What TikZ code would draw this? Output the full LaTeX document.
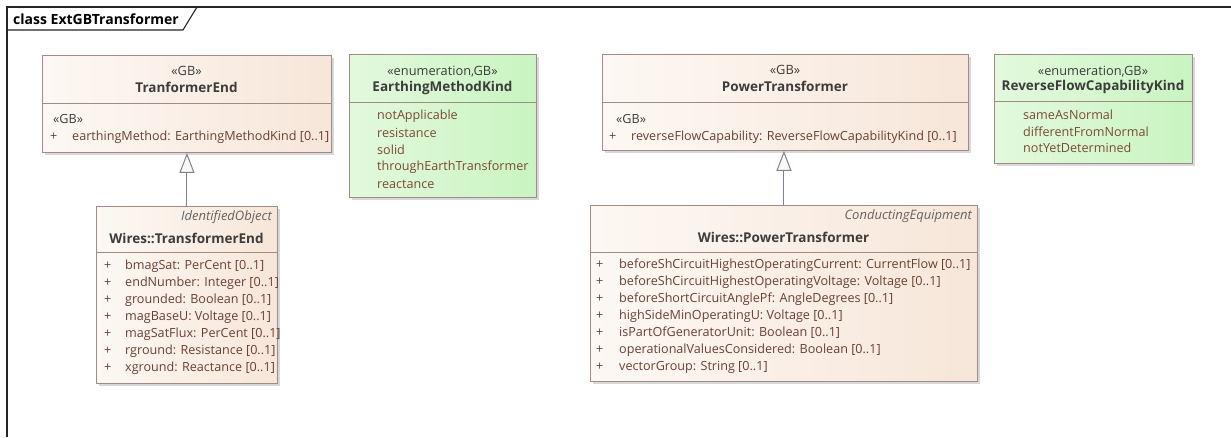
\documentclass[tikz,border=0pt]{standalone}
\usepackage{fontspec}
\setmainfont{Open Sans}
\usetikzlibrary{arrows.meta,shadows}
\definecolor{classline}{HTML}{A08C87}
\definecolor{peachleft}{HTML}{FDF8F4}
\definecolor{peachright}{HTML}{F7E6D9}
\definecolor{greenleft}{HTML}{E3F9DD}
\definecolor{greenright}{HTML}{C9F4C1}
\definecolor{arrowgray}{HTML}{7A8296}
\definecolor{titletext}{HTML}{3C3C3C}
\definecolor{attrtext}{HTML}{6B3F33}
\definecolor{enumtext}{HTML}{7A4A32}
\tikzset{
  classbox/.style={draw=classline, line width=0.9pt, anchor=north west, inner sep=0pt,
    left color=peachleft, right color=peachright,
    drop shadow={shadow xshift=3pt, shadow yshift=-3pt, fill=black!30, opacity=0.5}},
  enumbox/.style={classbox, left color=greenleft, right color=greenright},
  divider/.style={draw=classline, line width=0.9pt},
  stereo/.style={inner sep=0pt, text=titletext, font=\fontsize{12.8}{14}\selectfont},
  classname/.style={inner sep=0pt, text=titletext, font=\fontsize{13.5}{15}\selectfont\bfseries},
  parent/.style={inner sep=0pt, anchor=east, text=titletext!80, font=\fontsize{13}{15}\selectfont\itshape},
  attr/.style={inner sep=0pt, anchor=west, text=attrtext, font=\fontsize{12.6}{14}\selectfont},
  enumitem/.style={attr, text=enumtext},
  genline/.style={draw=arrowgray, line width=1pt,
    -{Triangle[open, length=20pt, width=15pt, fill=peachleft]}},
  frameline/.style={draw=black!85, line width=1.1pt}
}
\begin{document}
\begin{tikzpicture}[x=1pt, y=-1pt]
  \fill[white] (0,0) rectangle (1231,437);
  \useasboundingbox (0,0) rectangle (1231,437);
  % frame
  \draw[frameline] (7,437) -- (7,7) -- (1231,7);
  \draw[frameline] (7,30) -- (183,30) -- (197,7);
  \node[inner sep=0pt, anchor=west, text=black, font=\fontsize{14}{16}\selectfont\bfseries] (frametitle) at (13,19) {class ExtGBTransformer};

  % GB TranformerEnd
  \node[classbox, minimum width=289pt, minimum height=97pt] (te) at (42,55) {};
  \draw[divider] (42,103) -- (331,103);
  \node[stereo] (te-st) at (186.5,71) {«GB»};
  \node[classname] (te-name) at (186.5,87) {TranformerEnd};
  \node[attr, text=titletext] (te-ast) at (53,119) {«GB»};
  \node[attr] (te-p) at (50,137) {+};
  \node[attr] (te-a) at (72,137) {earthingMethod: EarthingMethodKind [0..1]};

  % EarthingMethodKind
  \node[enumbox, minimum width=187pt, minimum height=143pt] (emk) at (349,54) {};
  \draw[divider] (349,102) -- (536,102);
  \node[stereo] (emk-st) at (442.5,72) {«enumeration,GB»};
  \node[classname] (emk-name) at (442.5,88) {EarthingMethodKind};
  \foreach \lit [count=\i from 0] in {notApplicable, resistance, solid, throughEarthTransformer, reactance}
    \node[enumitem] (emk-\i) at (377,116+17*\i) {\lit};

  % Wires::TransformerEnd
  \node[classbox, minimum width=181pt, minimum height=177pt] (wte) at (96,206) {};
  \draw[divider] (96,252) -- (277,252);
  \node[parent] (wte-par) at (272,217) {IdentifiedObject};
  \node[classname] (wte-name) at (186.5,238) {Wires::TransformerEnd};
  \foreach \txt [count=\i from 0] in {bmagSat: PerCent [0..1], endNumber: Integer [0..1],
      grounded: Boolean [0..1], magBaseU: Voltage [0..1], magSatFlux: PerCent [0..1],
      rground: Resistance [0..1], xground: Reactance [0..1]} {
    \node[attr] (wte-p\i) at (104,266+17*\i) {+};
    \node[attr] (wte-a\i) at (125,266+17*\i) {\txt};
  }

  % GB PowerTransformer
  \node[classbox, minimum width=366pt, minimum height=96pt] (pt) at (602,54) {};
  \draw[divider] (602,102) -- (968,102);
  \node[stereo] (pt-st) at (785,70) {«GB»};
  \node[classname] (pt-name) at (785,86) {PowerTransformer};
  \node[attr, text=titletext] (pt-ast) at (616,119) {«GB»};
  \node[attr] (pt-p) at (609,137) {+};
  \node[attr] (pt-a) at (631,137) {reverseFlowCapability: ReverseFlowCapabilityKind [0..1]};

  % ReverseFlowCapabilityKind
  \node[enumbox, minimum width=198pt, minimum height=109pt] (rfck) at (994,54) {};
  \draw[divider] (994,101) -- (1192,101);
  \node[stereo] (rfck-st) at (1093,72) {«enumeration,GB»};
  \node[classname] (rfck-name) at (1093,87) {ReverseFlowCapabilityKind};
  \foreach \lit [count=\i from 0] in {sameAsNormal, differentFromNormal, notYetDetermined}
    \node[enumitem] (rfck-\i) at (1023,115+16.5*\i) {\lit};

  % Wires::PowerTransformer
  \node[classbox, minimum width=387pt, minimum height=176pt] (wpt) at (590,205) {};
  \draw[divider] (590,252) -- (977,252);
  \node[parent] (wpt-par) at (972,216) {ConductingEquipment};
  \node[classname] (wpt-name) at (783.5,237) {Wires::PowerTransformer};
  \foreach \txt [count=\i from 0] in {beforeShCircuitHighestOperatingCurrent: CurrentFlow [0..1],
      beforeShCircuitHighestOperatingVoltage: Voltage [0..1],
      beforeShortCircuitAnglePf: AngleDegrees [0..1], highSideMinOperatingU: Voltage [0..1],
      isPartOfGeneratorUnit: Boolean [0..1], operationalValuesConsidered: Boolean [0..1],
      vectorGroup: String [0..1]} {
    \node[attr] (wpt-p\i) at (596,265+17*\i) {+};
    \node[attr] (wpt-a\i) at (619,265+17*\i) {\txt};
  }

  % generalizations
  \draw[genline] (wte.north) -- (te.south);
  \draw[genline] (wpt.north) -- (wpt.north |- pt.south);
\end{tikzpicture}
\end{document}
